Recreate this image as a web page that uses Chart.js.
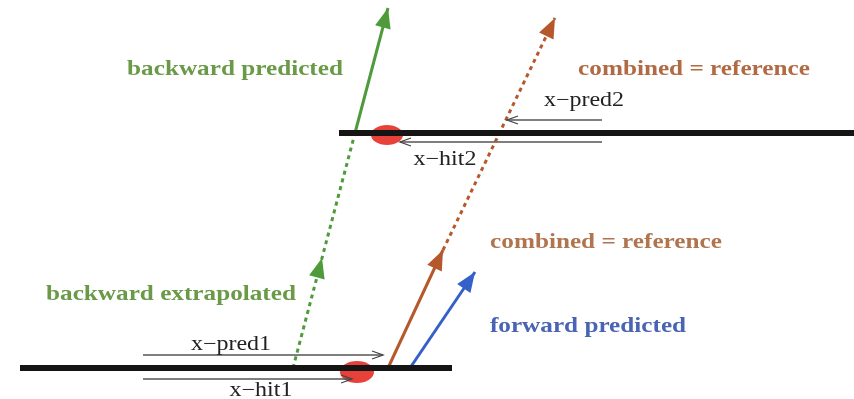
<!DOCTYPE html>
<html>
<head>
<meta charset="utf-8">
<title>Track fit: forward / backward / combined</title>
<script src="https://cdn.jsdelivr.net/npm/chart.js@4.4.1/dist/chart.umd.min.js"></script>
<style>
  html, body { margin: 0; padding: 0; background: #ffffff; }
  #wrap { width: 854px; height: 399px; position: relative; }
</style>
</head>
<body>
<div id="wrap"><canvas id="c"></canvas></div>
<script>
// Detector layers (drawing units: x to the right, y downward)
const layerXStart = [20, 339];
const layerXEnd   = [452, 854];
const layerY      = [368, 133];

// Track pieces: start/end points, style
const trackNames  = ["backward extrapolated", "backward predicted", "combined (layer 1)", "combined extrapolated", "forward predicted"];
const trackX0     = [293, 355, 388, 443, 410];
const trackY0     = [368, 133, 368, 250, 368];
const trackX1     = [355, 388, 443, 555, 475];
const trackY1     = [133, 8, 250, 18, 272];
const trackDotted = [true, false, false, true, false];
const trackColor  = ["#4f9a3a", "#4f9a3a", "#b5582c", "#b5582c", "#3560c8"];

// Filled arrowheads on the tracks (tip positions and the point they come from)
const headTipX  = [388, 322, 443, 555, 475];
const headTipY  = [8, 258, 250, 18, 272];
const headFromX = [355, 293, 388, 443, 410];
const headFromY = [133, 368, 368, 250, 368];
const headColor = ["#4f9a3a", "#4f9a3a", "#b5582c", "#b5582c", "#3560c8"];

// Hits on the layers
const hitX = [357, 387];
const hitY = [372, 135];
const hitRx = [17, 16];
const hitRy = [11, 10];

// Position measurement arrows (x-pred / x-hit)
const measX0 = [143, 143, 602, 602];
const measX1 = [383, 352, 507, 400];
const measY  = [355, 379, 120, 142];

// Text labels
const labelText  = ["backward predicted", "combined = reference", "x\u2212pred2", "x\u2212hit2",
                    "combined = reference", "backward extrapolated", "forward predicted", "x\u2212pred1", "x\u2212hit1"];
const labelX     = [235, 694, 584, 445, 606, 171, 588, 231, 261];
const labelY     = [70, 70, 101, 160, 243, 295, 327, 345, 391];
const labelBold  = [true, true, false, false, true, true, true, false, false];
const labelColor = ["#6a9a48", "#b06a44", "#222", "#222", "#b0744e", "#6a9a48", "#4a64b4", "#222", "#222"];

const datasets = [];
for (let i = 0; i < layerY.length; i++) {
  datasets.push({
    label: "layer " + (i + 1),
    data: [{x: layerXStart[i], y: layerY[i]}, {x: layerXEnd[i], y: layerY[i]}],
    borderColor: "#151515", borderWidth: 6, pointRadius: 0, borderCapStyle: "butt"
  });
}
for (let i = 0; i < trackNames.length; i++) {
  datasets.push({
    label: trackNames[i],
    data: [{x: trackX0[i], y: trackY0[i]}, {x: trackX1[i], y: trackY1[i]}],
    borderColor: trackColor[i], borderWidth: 3, pointRadius: 0,
    borderDash: trackDotted[i] ? [4, 4] : [], borderCapStyle: "butt"
  });
}
for (let i = 0; i < measY.length; i++) {
  datasets.push({
    label: "measurement " + (i + 1),
    data: [{x: measX0[i], y: measY[i]}, {x: measX1[i], y: measY[i]}],
    borderColor: "#555", borderWidth: 1.5, pointRadius: 0
  });
}

const decorations = {
  id: "decorations",
  beforeDatasetsDraw(chart) {
    const {ctx, scales: {x, y}} = chart;
    ctx.save();
    ctx.fillStyle = "#e8413a";
    for (let i = 0; i < hitX.length; i++) {
      const cx = x.getPixelForValue(hitX[i]), cy = y.getPixelForValue(hitY[i]);
      const rx = Math.abs(x.getPixelForValue(hitX[i] + hitRx[i]) - cx);
      const ry = Math.abs(y.getPixelForValue(hitY[i] + hitRy[i]) - cy);
      ctx.beginPath();
      ctx.ellipse(cx, cy, rx, ry, 0, 0, Math.PI * 2);
      ctx.fill();
    }
    ctx.restore();
  },
  afterDatasetsDraw(chart) {
    const {ctx, scales: {x, y}} = chart;
    ctx.save();
    // filled arrowheads
    for (let i = 0; i < headTipX.length; i++) {
      const tx = x.getPixelForValue(headTipX[i]), ty = y.getPixelForValue(headTipY[i]);
      const fx = x.getPixelForValue(headFromX[i]), fy = y.getPixelForValue(headFromY[i]);
      const a = Math.atan2(ty - fy, tx - fx);
      const len = 20, hw = 8;
      ctx.fillStyle = headColor[i];
      ctx.beginPath();
      ctx.moveTo(tx, ty);
      ctx.lineTo(tx - len * Math.cos(a) - hw * Math.sin(a), ty - len * Math.sin(a) + hw * Math.cos(a));
      ctx.lineTo(tx - len * Math.cos(a) + hw * Math.sin(a), ty - len * Math.sin(a) - hw * Math.cos(a));
      ctx.closePath();
      ctx.fill();
    }
    // open chevrons on measurement arrows
    ctx.strokeStyle = "#444";
    ctx.lineWidth = 1.3;
    for (let i = 0; i < measY.length; i++) {
      const ex = x.getPixelForValue(measX1[i]), ey = y.getPixelForValue(measY[i]);
      const dir = measX1[i] > measX0[i] ? 1 : -1;
      ctx.beginPath();
      ctx.moveTo(ex - dir * 11, ey - 4);
      ctx.lineTo(ex, ey);
      ctx.lineTo(ex - dir * 11, ey + 4);
      ctx.stroke();
    }
    // labels
    ctx.textAlign = "center";
    ctx.textBaseline = "middle";
    for (let i = 0; i < labelText.length; i++) {
      const px = x.getPixelForValue(labelX[i]), py = y.getPixelForValue(labelY[i]);
      ctx.font = (labelBold[i] ? "bold 21px" : "20px") + " 'Liberation Serif', 'DejaVu Serif', serif";
      ctx.fillStyle = labelColor[i];
      ctx.save();
      ctx.translate(px, py);
      ctx.scale(1.2, 1);
      ctx.fillText(labelText[i], 0, 0);
      ctx.restore();
    }
    ctx.restore();
  }
};

new Chart(document.getElementById("c"), {
  type: "line",
  data: { datasets },
  options: {
    responsive: true,
    maintainAspectRatio: false,
    animation: false,
    layout: { padding: 0 },
    elements: { line: { tension: 0 } },
    datasets: { line: { clip: false } },
    plugins: { legend: { display: false }, tooltip: { enabled: false }, title: { display: false } },
    scales: {
      x: { type: "linear", min: 0, max: 854, display: false },
      y: { type: "linear", min: 0, max: 399, reverse: true, display: false }
    }
  },
  plugins: [decorations]
});
</script>
</body>
</html>
